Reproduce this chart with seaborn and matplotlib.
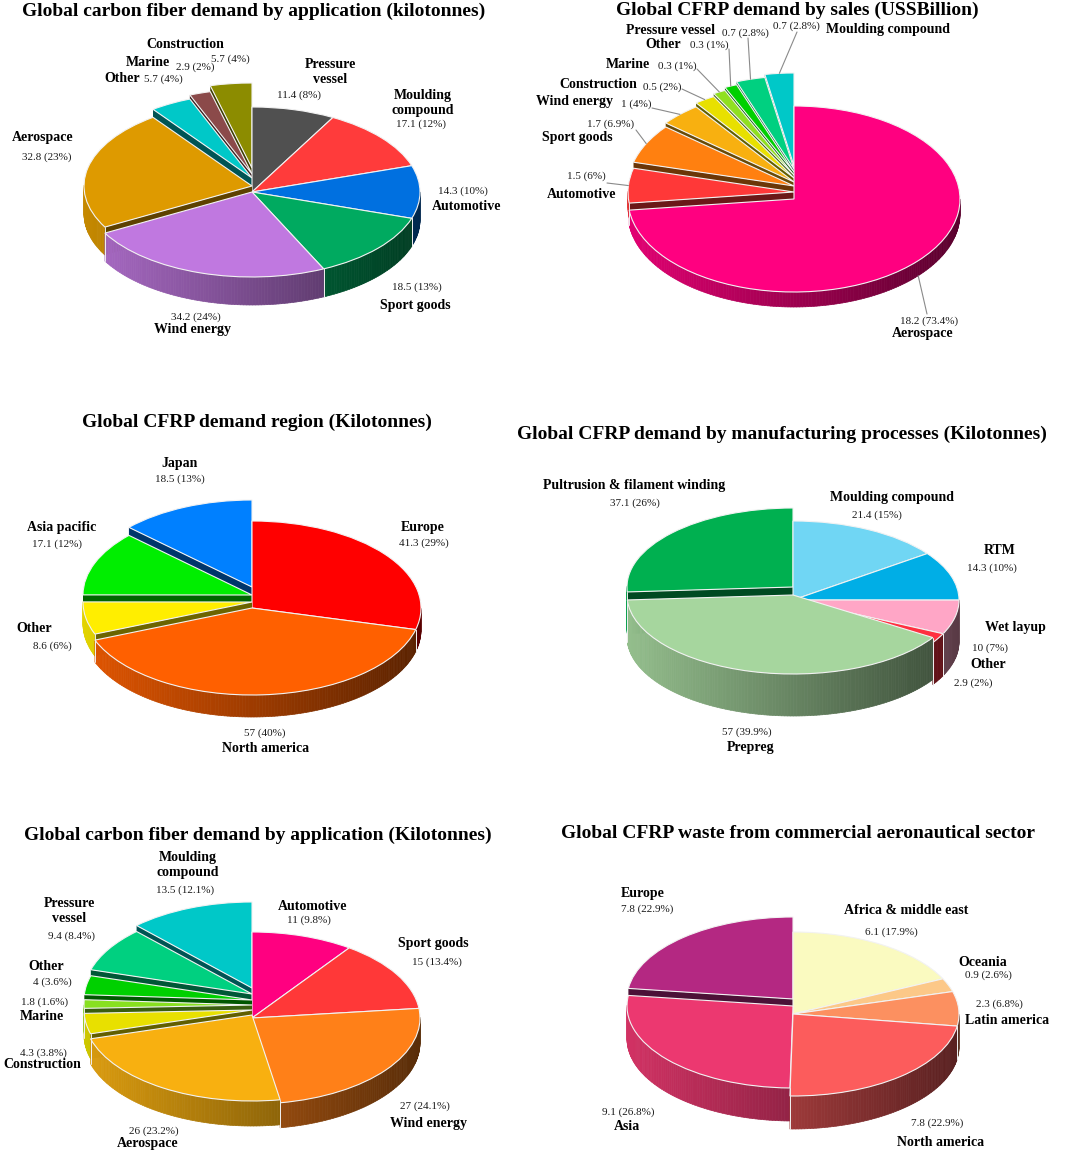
import numpy as np
import matplotlib
matplotlib.use("Agg")
import matplotlib.pyplot as plt
import seaborn as sns
from matplotlib.patches import Wedge, Polygon
from matplotlib.collections import PolyCollection
from matplotlib.colors import to_rgb
from matplotlib.transforms import Affine2D

# ---------------- data ----------------
app1_names = ["Pressure\nvessel", "Moulding\ncompound", "Automotive", "Sport goods",
              "Wind energy", "Aerospace", "Other", "Marine", "Construction"]
app1_values = [11.4, 17.1, 14.3, 18.5, 34.2, 32.8, 5.7, 2.9, 5.7]
app1_pcts = [8, 12, 10, 13, 24, 23, 4, 2, 4]

sales_names = ["Aerospace", "Automotive", "Sport goods", "Wind energy", "Construction",
               "Marine", "Other", "Pressure vessel", "Moulding compound"]
sales_values = [18.2, 1.5, 1.7, 1, 0.5, 0.3, 0.3, 0.7, 0.7]
sales_pcts = [73.4, 6, 6.9, 4, 2, 1, 1, 2.8, 2.8]

region_names = ["Europe", "North america", "Other", "Asia pacific", "Japan"]
region_values = [41.3, 57, 8.6, 17.1, 18.5]
region_pcts = [29, 40, 6, 12, 13]

proc_names = ["Moulding compound", "RTM", "Wet layup", "Other", "Prepreg",
              "Pultrusion & filament winding"]
proc_values = [21.4, 14.3, 10, 2.9, 57, 37.1]
proc_pcts = [15, 10, 7, 2, 39.9, 26]

app2_names = ["Automotive", "Sport goods", "Wind energy", "Aerospace", "Construction",
              "Marine", "Other", "Pressure\nvessel", "Moulding\ncompound"]
app2_values = [11, 15, 27, 26, 4.3, 1.8, 4, 9.4, 13.5]
app2_pcts = [9.8, 13.4, 24.1, 23.2, 3.8, 1.6, 3.6, 8.4, 12.1]

waste_names = ["Africa & middle east", "Oceania", "Latin america", "North america",
               "Asia", "Europe"]
waste_values = [6.1, 0.9, 2.3, 7.8, 9.1, 7.8]
waste_pcts = [17.9, 2.6, 6.8, 22.9, 26.8, 22.9]

# ---------------- styles / layout ----------------
sns.set_theme(style="white")
plt.rcParams['font.family'] = ['Liberation Serif', 'DejaVu Serif']

app1_colors = ['#505050', '#ff3b3b', '#0070e0', '#00aa60', '#c078e0', '#de9a00',
               '#00c8c8', '#8b4a4a', '#8c8c00']
sales_colors = ['#ff0080', '#ff3838', '#ff8010', '#f8b010', '#e8e000', '#90e020',
                '#00d000', '#00d080', '#00c8c8']
region_colors = ['#ff0000', '#ff6000', '#ffee00', '#00ee00', '#0080ff']
proc_colors = ['#70d6f4', '#00aee6', '#ffa6c6', '#ff3040', '#a6d69e', '#00b050']
app2_colors = ['#ff0080', '#ff3838', '#ff8018', '#f8b010', '#e8e000', '#88e020',
               '#00d000', '#00d080', '#00c8c8']
waste_colors = ['#fafac0', '#fcc888', '#fc9060', '#fc5c5c', '#ec3870', '#b42882']

# pixel layout: cx, cy, rx, ry, depth
panels = [
    dict(title="Global carbon fiber demand by application (kilotonnes)", title_xy=(254, 11),
         geom=(252, 192, 168, 85, 28), names=app1_names, values=app1_values, pcts=app1_pcts,
         colors=app1_colors, lifts=[0, 0, 0, 0, 0, 6, 14, 18, 24],
         name_xy=[(330, 72), (423, 103), (467, 206), (415, 306), (193, 329), (43, 137),
                  (122, 78), (148, 62), (185, 45)],
         value_xy=[(299, 95), (421, 124), (463, 191), (417, 287), (196, 317), (47, 157),
                   (163, 79), (195, 67), (230, 59)]),
    dict(title="Global CFRP demand by sales (USSBillion)", title_xy=(797, 10),
         geom=(794, 199, 166, 93, 15), names=sales_names, values=sales_values, pcts=sales_pcts,
         colors=sales_colors, lifts=[0, 7, 13, 17, 21, 24, 27, 30, 33],
         name_xy=[(923, 334), (582, 194), (577, 137), (575, 102), (598, 84), (628, 64),
                  (663, 44), (671, 31), (888, 30)],
         value_xy=[(929, 321), (586, 176), (611, 124), (636, 104), (662, 87), (677, 66),
                   (709, 45), (745, 33), (796, 26)],
         leaders=[(927, 314), (607, 183), (636, 130), (652, 108), (682, 89), (697, 69),
                  (729, 49), (748, 38), (797, 32)]),
    dict(title="Global CFRP demand region (Kilotonnes)", title_xy=(257, 422),
         geom=(252, 608, 169, 87, 22), names=region_names, values=region_values,
         pcts=region_pcts, colors=region_colors, lifts=[0, 0, 6, 13, 21],
         name_xy=[(423, 528), (266, 748), (34, 628), (62, 528), (180, 463)],
         value_xy=[(424, 543), (265, 733), (52, 646), (57, 544), (180, 479)]),
    dict(title="Global CFRP demand by manufacturing processes (Kilotonnes)", title_xy=(782, 434),
         geom=(793, 600, 166, 79, 42), names=proc_names, values=proc_values, pcts=proc_pcts,
         colors=proc_colors, lifts=[0, 0, 0, 0, 5, 13],
         name_xy=[(892, 497), (1000, 550), (1015, 627), (988, 664), (751, 748), (634, 486)],
         value_xy=[(877, 515), (992, 568), (990, 648), (973, 683), (747, 732), (635, 503)]),
    dict(title="Global carbon fiber demand by application (Kilotonnes)", title_xy=(258, 835),
         geom=(252, 1018, 168, 86, 25), names=app2_names, values=app2_values, pcts=app2_pcts,
         colors=app2_colors, lifts=[0, 0, 0, 3, 8, 13, 18, 24, 30],
         name_xy=[(313, 906), (433, 944), (428, 1123), (148, 1143), (42, 1065), (42, 1017),
                  (46, 967), (69, 911), (188, 865)],
         value_xy=[(309, 920), (437, 962), (425, 1106), (154, 1131), (43, 1053), (45, 1002),
                   (52, 982), (72, 936), (185, 890)]),
    dict(title="Global CFRP waste from commercial aeronautical sector", title_xy=(798, 834),
         geom=(793, 1014, 166, 82, 33), names=waste_names, values=waste_values,
         pcts=waste_pcts, colors=waste_colors, lifts=[0, 0, 0, 0, 8, 15],
         name_xy=[(906, 911), (983, 962), (1007, 1021), (941, 1142), (627, 1126), (643, 894)],
         value_xy=[(891, 932), (988, 975), (999, 1004), (937, 1123), (628, 1112), (647, 909)]),
]


def shade(color, f):
    r, g, b = to_rgb(color)
    return (r * f, g * f, b * f)


def draw_pie3d(ax, geom, values, colors, lifts):
    cx, cy, rx, ry, depth = geom
    vals = np.asarray(values, float)
    spans = vals / vals.sum() * 360
    a_hi = 90 - np.concatenate([[0], np.cumsum(spans)[:-1]])
    a_lo = a_hi - spans
    mids = (a_hi + a_lo) / 2
    n = len(vals)
    keys = [cy - 0.6 * ry * np.sin(np.radians(m)) - lifts[i] for i, m in enumerate(mids)]
    for i in np.argsort(keys):
        oy = cy - lifts[i]
        col = colors[i]
        lo, hi = a_lo[i], a_hi[i]
        # outer curved wall, shaded left -> right
        ts = np.linspace(lo, hi, max(int((hi - lo) / 1.0), 2) + 1)
        polys, fcs = [], []
        for t0, t1 in zip(ts[:-1], ts[1:]):
            tm = np.radians((t0 + t1) / 2)
            if np.sin(tm) >= 0:
                continue
            r0, r1 = np.radians(t0), np.radians(t1)
            x0, x1 = cx + rx * np.cos(r0), cx + rx * np.cos(r1)
            y0, y1 = oy - ry * np.sin(r0), oy - ry * np.sin(r1)
            polys.append([(x0, y0), (x1, y1), (x1, y1 + depth), (x0, y0 + depth)])
            fcs.append(shade(col, 0.62 - 0.27 * np.cos(tm)))
        if polys:
            ax.add_collection(PolyCollection(polys, facecolors=fcs, edgecolors=fcs,
                                             linewidths=0.5))
            # light seams where the wall of one slice meets the next
            for ang in (lo, hi):
                r = np.radians(ang)
                if np.sin(r) < -0.02:
                    ex, ey = cx + rx * np.cos(r), oy - ry * np.sin(r)
                    ax.plot([ex, ex], [ey, ey + depth], color='#eeeeee', lw=0.7)
        # radial cut faces of lifted slices
        sides = ((hi, (i - 1) % n, np.cos(np.radians(hi)) < -1e-3),
                 (lo, (i + 1) % n, np.cos(np.radians(lo)) > 1e-3))
        for ang, nb, visible in sides:
            if visible and lifts[i] > lifts[nb]:
                r = np.radians(ang)
                ex, ey = cx + rx * np.cos(r), oy - ry * np.sin(r)
                ax.add_patch(Polygon([(cx, oy), (ex, ey), (ex, ey + depth), (cx, oy + depth)],
                                     closed=True, facecolor=shade(col, 0.42),
                                     edgecolor='none'))
        # top surface
        tr = Affine2D().scale(rx, -ry).translate(cx, oy) + ax.transData
        ax.add_patch(Wedge((0, 0), 1, lo, hi, facecolor=col, edgecolor='#f2f2f2',
                           linewidth=0.8, transform=tr))
    return a_lo, a_hi


fig = plt.figure(figsize=(10.65, 11.53), dpi=100)
ax = fig.add_axes([0, 0, 1, 1])
ax.set_xlim(0, 1065)
ax.set_ylim(1153, 0)
ax.axis('off')

for p in panels:
    a_lo, a_hi = draw_pie3d(ax, p['geom'], p['values'], p['colors'], p['lifts'])
    ax.text(*p['title_xy'], p['title'], ha='center', va='center', fontsize=14,
            fontweight='bold', color='black')
    for k, (nm, v, pc) in enumerate(zip(p['names'], p['values'], p['pcts'])):
        ax.text(*p['name_xy'][k], nm, ha='center', va='center', fontsize=10,
                fontweight='bold', linespacing=1.25, color='black')
        ax.text(*p['value_xy'][k], f"{v:g} ({pc:g}%)", ha='center', va='center',
                fontsize=8, color='#1a1a1a')
    if 'leaders' in p:
        cx, cy, rx, ry, depth = p['geom']
        for k, (sx, sy) in enumerate(p['leaders']):
            m = np.radians((a_lo[k] + a_hi[k]) / 2)
            ex = cx + rx * np.cos(m)
            ey = cy - p['lifts'][k] - ry * np.sin(m)
            if np.sin(m) < 0:
                ey += depth
            ax.plot([sx, ex], [sy, ey], color='#8a8a8a', lw=0.8, zorder=3)

fig.savefig("out.png", dpi=100)
